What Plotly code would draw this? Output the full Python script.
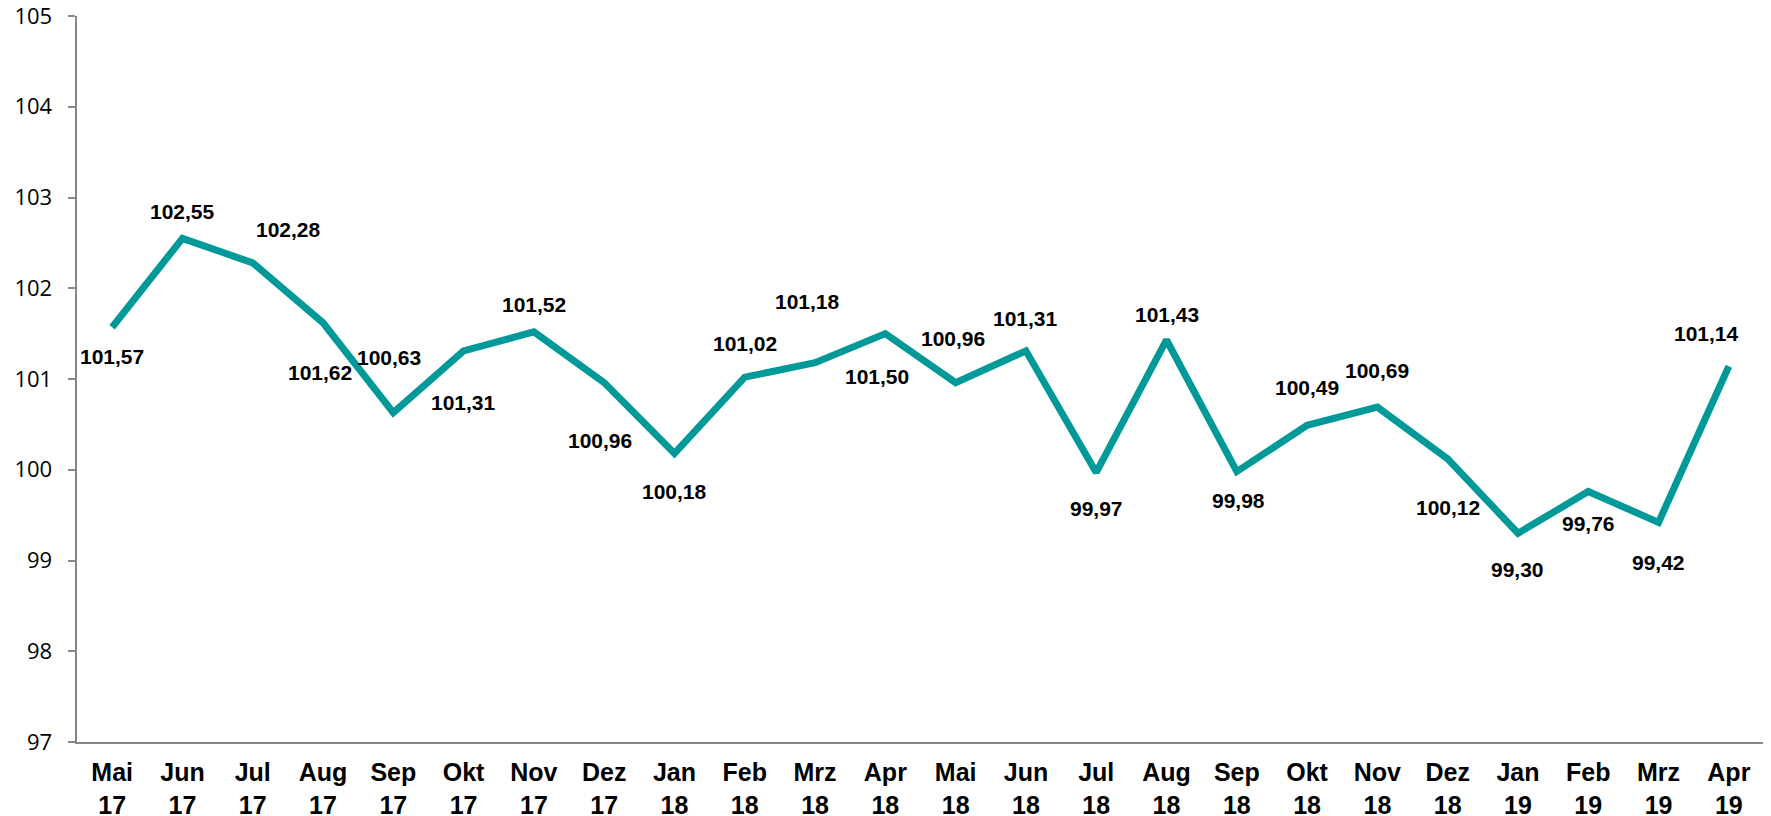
import plotly.graph_objects as go

months = ["Mai", "Jun", "Jul", "Aug", "Sep", "Okt", "Nov", "Dez",
          "Jan", "Feb", "Mrz", "Apr", "Mai", "Jun", "Jul", "Aug",
          "Sep", "Okt", "Nov", "Dez", "Jan", "Feb", "Mrz", "Apr"]
years = ["17"] * 8 + ["18"] * 12 + ["19"] * 4
values = [101.57, 102.55, 102.28, 101.62, 100.63, 101.31, 101.52, 100.96,
          100.18, 101.02, 101.18, 101.50, 100.96, 101.31, 99.97, 101.43,
          99.98, 100.49, 100.69, 100.12, 99.30, 99.76, 99.42, 101.14]
y_ticks = [97, 98, 99, 100, 101, 102, 103, 104, 105]

# label offsets in pixels (dx, dy), dy positive = up
label_dx = [0, 0, 36, -3, -4, 0, 0, -4, 0, 0, -8, -8,
            -3, 0, 0, 0, 2, 0, 0, 0, 0, 0, 0, -22]
label_dy = [-29, 27, 33, -50, 55, -52, 27, -58, -38, 34, 61, -43,
            44, 32, -36, 25, -29, 38, 37, -49, -36, -32, -40, 33]

cats = [f"{m}<br>{y}" for m, y in zip(months, years)]
xs = list(range(len(values)))

fig = go.Figure(
    go.Scatter(
        x=xs,
        y=values,
        mode="lines",
        line=dict(color="#009999", width=7),
        hoverinfo="skip",
    )
)

for x, v, dx, dy in zip(xs, values, label_dx, label_dy):
    fig.add_annotation(
        x=x, y=v,
        text=f"{v:.2f}".replace(".", ","),
        showarrow=False,
        xshift=dx, yshift=dy,
        font=dict(family="Liberation Sans", size=21, color="#000000", weight="bold"),
    )

# page body has an 8px margin, so the figure is sized to fit the window
fig.update_layout(
    width=1763,
    height=808,
    margin=dict(l=69, r=7, t=8, b=74),
    plot_bgcolor="white",
    paper_bgcolor="white",
    showlegend=False,
)
fig.update_xaxes(
    range=[-0.5, len(values) - 0.5],
    tickmode="array",
    tickvals=xs,
    ticktext=cats,
    ticks="",
    showgrid=False,
    zeroline=False,
    showline=True,
    linecolor="#868686",
    linewidth=2,
    automargin=False,
    tickfont=dict(family="Liberation Sans", size=25, color="#000000", weight="bold"),
    ticklabelstandoff=7,
)
fig.update_yaxes(
    range=[97, 105],
    tickmode="array",
    tickvals=y_ticks,
    ticktext=[f"{t}\u00a0\u00a0" for t in y_ticks],
    ticks="outside",
    ticklen=7,
    tickcolor="#868686",
    tickwidth=1.5,
    showgrid=False,
    zeroline=False,
    showline=True,
    linecolor="#868686",
    linewidth=2,
    automargin=False,
    ticklabeloverflow="allow",
    tickfont=dict(family="Open Sans", size=22, color="#000000"),
)

fig.write_html("out.html")
